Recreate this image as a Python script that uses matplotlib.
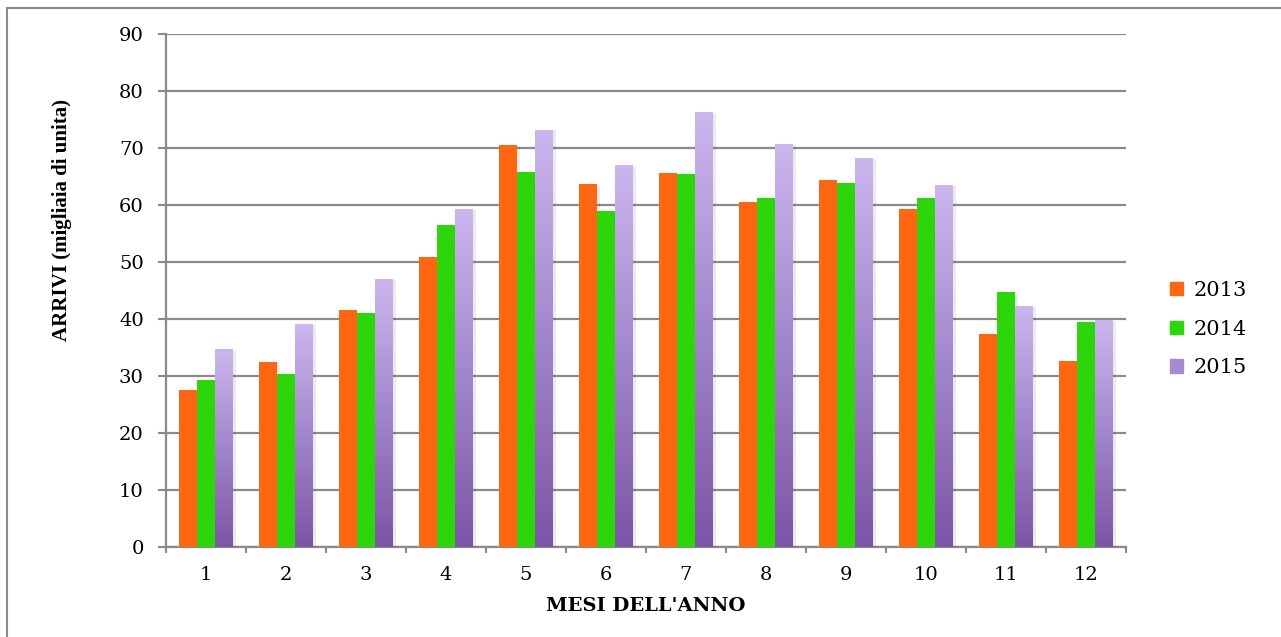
import numpy as np
import matplotlib
matplotlib.use("Agg")
import matplotlib.pyplot as plt
from matplotlib.patches import Rectangle
from matplotlib.colors import LinearSegmentedColormap
from matplotlib import patheffects as pe

# Monthly arrivals (thousands of units)
months = ["1", "2", "3", "4", "5", "6", "7", "8", "9", "10", "11", "12"]
arrivi_2013 = [27.6, 32.4, 41.6, 50.9, 70.5, 63.6, 65.6, 60.5, 64.3, 59.3, 37.3, 32.6]
arrivi_2014 = [29.3, 30.3, 41.0, 56.5, 65.8, 58.9, 65.4, 61.2, 63.8, 61.2, 44.7, 39.5]
arrivi_2015 = [34.7, 39.1, 47.0, 59.3, 73.2, 67.0, 76.3, 70.7, 68.2, 63.5, 42.3, 39.8]
years = ["2013", "2014", "2015"]

ORANGE = "#ff6611"
GREEN = "#2dd60a"
PURPLE_TOP = "#cbb6ee"
PURPLE_BOT = "#7b55a6"
GRID = "#8a8a8a"

serif = ["DejaVu Serif"]

fig = plt.figure(figsize=(12.81, 6.37), dpi=100)
ax = fig.add_axes([166 / 1281, 1 - 547 / 637, 960 / 1281, 513 / 637])

x = np.arange(len(months))
w = 0.225
shadow = [pe.SimplePatchShadow(offset=(2.5, -0.5), shadow_rgbFace="#000000", alpha=0.08), pe.Normal()]

ax.bar(x - w, arrivi_2013, w, color=ORANGE, zorder=3, path_effects=shadow)
ax.bar(x, arrivi_2014, w, color=GREEN, zorder=3, path_effects=shadow)
bars15 = ax.bar(x + w, arrivi_2015, w, color="none", zorder=3, path_effects=shadow)

# vertical gradient fill for the 2015 bars
cmap = LinearSegmentedColormap.from_list("viola", [PURPLE_BOT, PURPLE_TOP])
grad = np.linspace(0, 1, 256).reshape(-1, 1)
for b in bars15:
    bx, by = b.get_x(), b.get_y()
    bw, bh = b.get_width(), b.get_height()
    im = ax.imshow(grad, cmap=cmap, origin="lower", aspect="auto",
                   extent=[bx, bx + bw, by, by + bh], zorder=3.1)
    im.set_clip_path(b)

ax.set_xlim(-0.5, len(months) - 0.5)
ax.set_ylim(0, 90)
ax.set_yticks(np.arange(0, 91, 10))
ax.set_xticks(np.arange(-0.5, len(months) + 0.5, 1.0))
ax.set_xticklabels([])
ax.set_xticks(x, minor=True)
ax.set_xticklabels(months, minor=True)
ax.tick_params(axis="x", which="minor", length=0, pad=14, labelsize=14)
ax.tick_params(axis="x", which="major", length=4, width=1.5, color=GRID, direction="out")
ax.tick_params(axis="y", length=6, width=1.5, color=GRID, direction="out", pad=10, labelsize=14)
for lab in ax.get_xticklabels(minor=True) + ax.get_yticklabels():
    lab.set_fontfamily(serif)

ax.yaxis.grid(True, color=GRID, linewidth=1.6, zorder=0)
ax.set_axisbelow(True)
for s in ["top", "right"]:
    ax.spines[s].set_visible(False)
for s in ["left", "bottom"]:
    ax.spines[s].set_color(GRID)
    ax.spines[s].set_linewidth(1.6)

ax.set_xlabel("MESI DELL'ANNO", fontfamily=serif, fontweight="bold", fontsize=14, labelpad=9)
fig.text(62 / 1281, 1 - 220 / 637, "ARRIVI (migliaia di unita)", rotation=90,
         ha="center", va="center", fontfamily=["Liberation Serif"], fontweight="bold",
         fontsize=15)

handles = [Rectangle((0, 0), 1, 1, color=ORANGE),
           Rectangle((0, 0), 1, 1, color=GREEN),
           Rectangle((0, 0), 1, 1, color="#a58bd0")]
leg = fig.legend(handles, years, loc="center left", bbox_to_anchor=(1162 / 1281, 1 - 329 / 637),
                 frameon=False, prop={"family": serif, "size": 15},
                 handlelength=0.6, handleheight=0.6, labelspacing=0.95, handletextpad=0.5,
                 borderaxespad=0)

# outer frame
fig.add_artist(plt.Line2D([7 / 1281, 7 / 1281], [0, 1 - 8 / 637], transform=fig.transFigure,
                          color=GRID, linewidth=1.5))
fig.add_artist(plt.Line2D([7 / 1281, 1], [1 - 8 / 637, 1 - 8 / 637], transform=fig.transFigure,
                          color=GRID, linewidth=1.5))

fig.savefig("out.png", dpi=100)
